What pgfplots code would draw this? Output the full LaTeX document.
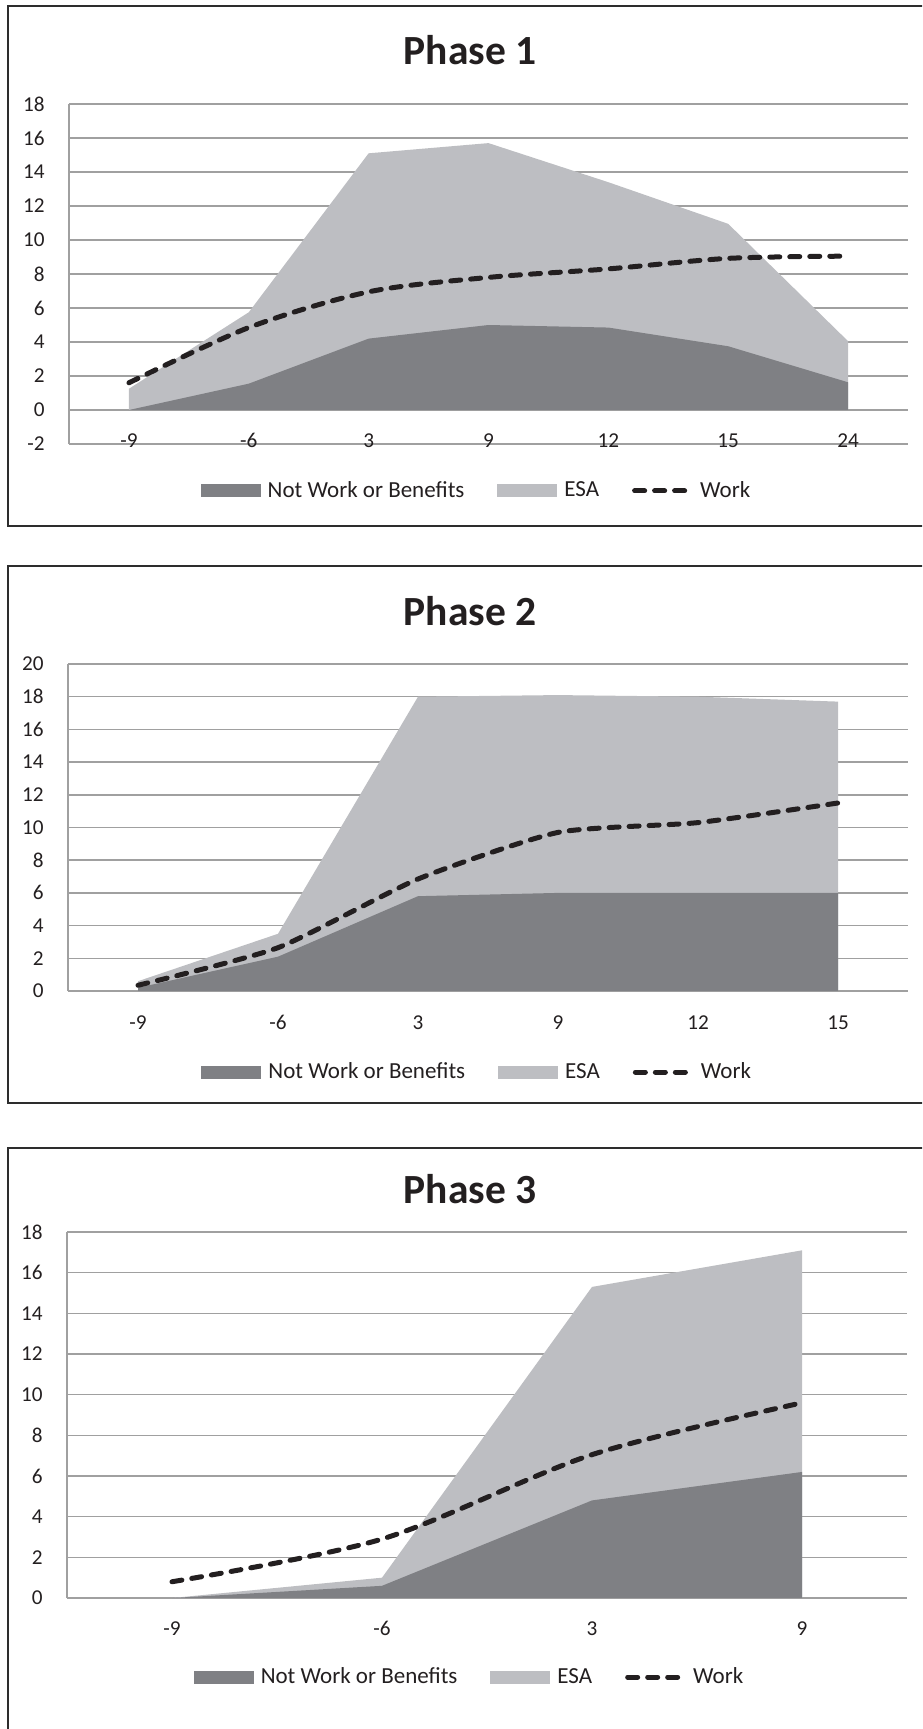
\documentclass[border=0pt]{standalone}
\usepackage{fontspec}
\setmainfont{Carlito}
\usepackage{pgfplots}
\pgfplotsset{compat=1.18}
\definecolor{darkA}{RGB}{127,128,132}
\definecolor{lightA}{RGB}{189,190,194}
\definecolor{gridc}{RGB}{160,160,160}
\definecolor{txt}{RGB}{35,31,32}
\definecolor{framec}{RGB}{45,45,45}

\pgfplotsset{
  phase/.style={
    scale only axis,
    axis lines*=left,
    axis line style={draw=gridc, line width=0.75pt},
    ymajorgrids,
    grid style={draw=gridc, line width=0.75pt},
    major tick length=0pt,
    tick style={draw=none},
    enlargelimits=false,
    /pgf/number format/assume math mode=true,
    ticklabel style={font=\fontsize{10.6}{12}\selectfont, text=txt},
    yticklabel style={anchor=east, inner sep=0pt, xshift=-12pt},
    xticklabel style={anchor=base, inner sep=0pt},
    every axis title shift=0pt,
    title style={font=\fontsize{20.75}{24}\selectfont\bfseries, text=txt, anchor=base, inner sep=0pt},
    legend columns=-1,
    legend cell align=left,
    legend style={draw=none, fill=none, inner sep=0pt, anchor=center,
      nodes={inner sep=0pt, text=txt},
      font=\fontsize{11.5}{13}\selectfont,
      /tikz/every odd column/.append style={column sep=3.5pt},
      /tikz/every even column/.append style={column sep=16.5pt}},
    no markers,
  },
  esa/.style={fill=lightA, draw=none},
  nwb/.style={fill=darkA, draw=none},
  work/.style={draw=txt, line width=2.5pt, dash pattern=on 5pt off 5pt, line cap=round, smooth, tension=0.5},
  sw/.style={legend image code/.code={\fill[##1] (0pt,-3.25pt) rectangle (30pt,3.25pt);}},
  wl/.style={legend image code/.code={\path[draw=none, fill=none] (0pt,-1pt) rectangle (30.5pt,1pt); \draw[##1] (1.25pt,0pt) -- (26.25pt,0pt);}},
}

\begin{document}
\begin{tikzpicture}
\useasboundingbox (0pt,0pt) rectangle (461pt,-864.5pt);
\clip (0pt,0pt) rectangle (461pt,-864.5pt);

% panel frames
\draw[framec, line width=1pt] (4pt,-3pt) rectangle (466pt,-263pt);
\draw[framec, line width=1pt] (4pt,-283pt) rectangle (466pt,-551.5pt);
\draw[framec, line width=1pt] (4pt,-574pt) rectangle (466pt,-875pt);

% ---------------- Phase 1 ----------------
\begin{axis}[phase,
  at={(34.5pt,-222pt)}, anchor=south west,
  width=419.5pt, height=170pt,
  xmin=-0.5, xmax=6.5, ymin=-2, ymax=18,
  xtick={0,1,2,3,4,5,6}, xticklabels={-9,-6,3,9,12,15,24},
  ytick={-2,0,2,4,6,8,10,12,14,16,18},
  xticklabel style={yshift=-1.5pt},
  title={Phase 1}, title style={at={(0.478,1.1176)}},
  legend style={at={(0.4845,-0.138)}},
]
\addplot[esa, forget plot] coordinates {(0,0) (0,1.25) (1,5.75) (2,15.1) (3,15.7) (4,13.4) (5,10.95) (6,4.05) (6,0)};
\addplot[nwb, forget plot] coordinates {(0,0) (1,1.55) (2,4.2) (3,5.0) (4,4.85) (5,3.75) (6,1.63) (6,0)};
\addlegendimage{nwb, sw}\addlegendentry{Not Work or Benefits}
\addlegendimage{esa, sw}\addlegendentry{ESA}
\addplot[work, wl] coordinates {(0,1.6) (1,4.85) (2,6.95) (3,7.8) (4,8.3) (5,8.92) (6,9.05)};
\addlegendentry{Work}
\end{axis}

% ---------------- Phase 2 ----------------
\begin{axis}[phase,
  at={(34pt,-495.5pt)}, anchor=south west,
  width=420pt, height=163.5pt,
  xmin=-0.5, xmax=5.5, ymin=0, ymax=20,
  xtick={0,1,2,3,4,5}, xticklabels={-9,-6,3,9,12,15},
  ytick={0,2,4,6,8,10,12,14,16,18,20},
  xticklabel style={yshift=-19pt},
  title={Phase 2}, title style={at={(0.4786,1.119)}},
  legend style={at={(0.486,-0.248)}},
]
\addplot[esa, forget plot] coordinates {(0,0) (0,0.6) (1,3.5) (2,18.0) (3,18.1) (4,18.0) (5,17.7) (5,0)};
\addplot[nwb, forget plot] coordinates {(0,0) (0,0.2) (1,2.1) (2,5.8) (3,6.0) (4,6.0) (5,6.0) (5,0)};
\addlegendimage{nwb, sw}\addlegendentry{Not Work or Benefits}
\addlegendimage{esa, sw}\addlegendentry{ESA}
\addplot[work, wl, tension=0.35] coordinates {(0,0.35) (1,2.65) (2,6.85) (3,9.7) (4,10.3) (5,11.5)};
\addlegendentry{Work}
\end{axis}

% ---------------- Phase 3 ----------------
\begin{axis}[phase,
  at={(33.5pt,-799pt)}, anchor=south west,
  width=420pt, height=183pt,
  xmin=-0.5, xmax=3.5, ymin=0, ymax=18,
  xtick={0,1,2,3}, xticklabels={-9,-6,3,9},
  ytick={0,2,4,6,8,10,12,14,16,18},
  xticklabel style={yshift=-18.5pt},
  title={Phase 3}, title style={at={(0.48,1.079)}},
  legend style={at={(0.478,-0.216)}},
]
\addplot[esa, forget plot] coordinates {(0,0) (1,1.0) (2,15.3) (3,17.1) (3,0)};
\addplot[nwb, forget plot] coordinates {(0,0) (1,0.6) (2,4.8) (3,6.2) (3,0)};
\addlegendimage{nwb, sw}\addlegendentry{Not Work or Benefits}
\addlegendimage{esa, sw}\addlegendentry{ESA}
\addplot[work, wl] coordinates {(0,0.8) (1,2.9) (2,7.05) (3,9.6)};
\addlegendentry{Work}
\end{axis}
\end{tikzpicture}
\end{document}
